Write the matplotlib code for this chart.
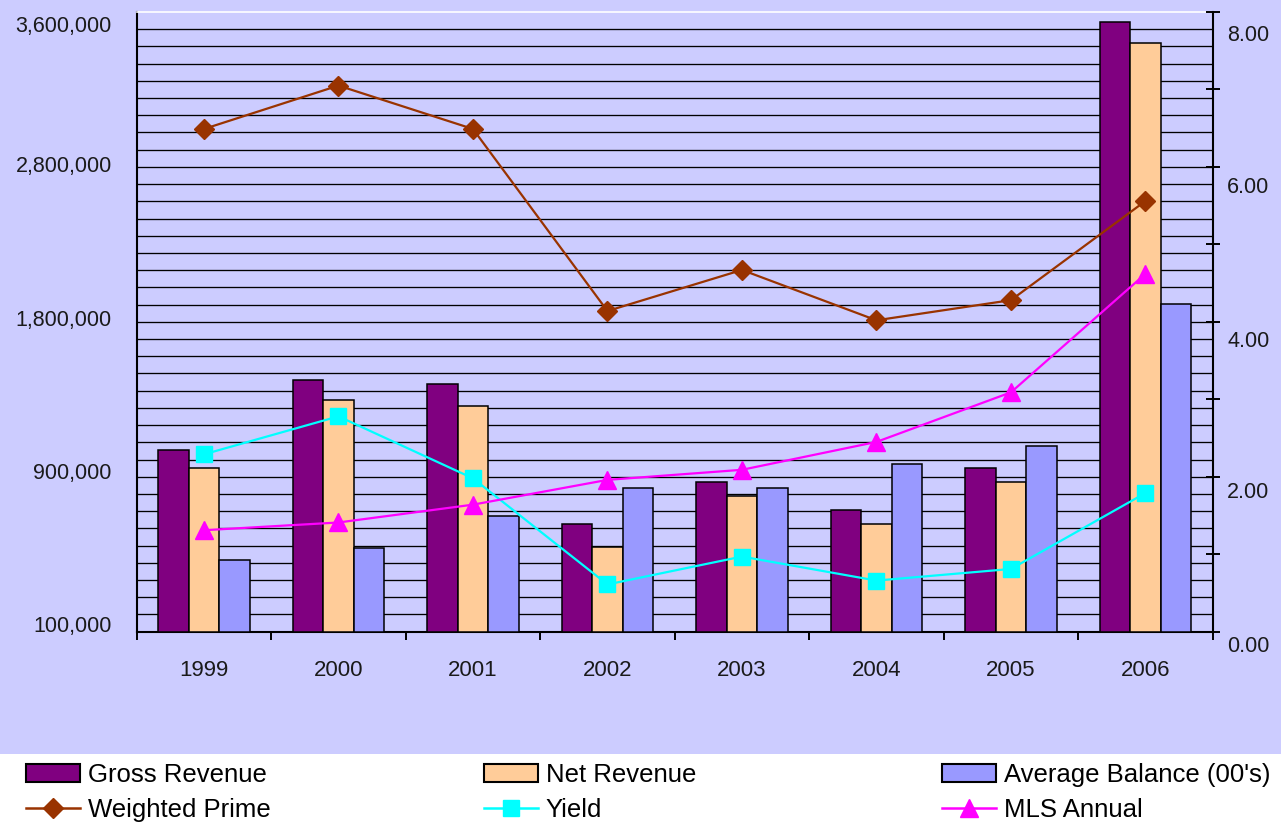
import numpy as np
import matplotlib
matplotlib.use("Agg")
import matplotlib.pyplot as plt
from matplotlib.patches import Rectangle, Patch
from matplotlib.lines import Line2D
from matplotlib.ticker import FixedLocator

plt.rcParams['font.family'] = ['Liberation Sans', 'DejaVu Sans']

# ---- data ----
years = ["1999", "2000", "2001", "2002", "2003", "2004", "2005", "2006"]
gross_revenue = [1053700, 1460400, 1437100, 623900, 867900, 705200, 949200, 3543500]
net_revenue = [949200, 1344200, 1309300, 493800, 786500, 623900, 867900, 3418000]
average_balance = [414800, 484500, 670300, 833000, 833000, 972400, 1077000, 1905300]
weighted_prime = [6.49, 7.05, 6.49, 4.14, 4.67, 4.02, 4.28, 5.56]
yield_pct = [2.29, 2.78, 1.98, 0.61, 0.97, 0.66, 0.81, 1.79]
mls_annual = [1.31, 1.41, 1.64, 1.96, 2.09, 2.45, 3.09, 4.62]

left_tick_values = [0, 900000, 1800000, 2700000, 3600000]
left_tick_labels = ["100,000", "900,000", "1,800,000", "2,800,000", "3,600,000"]
right_tick_values = [0, 2, 4, 6, 8]
right_tick_labels = ["0.00", "2.00", "4.00", "6.00", "8.00"]

# ---- style ----
W, H = 1281, 823
LAV = '#CCCCFF'
C_GROSS, C_NET, C_AVG = '#800080', '#FFCC99', '#9999FF'
C_WP, C_Y, C_MLS = '#993300', '#00FFFF', '#FF00FF'
TICK_FS = 15.5
LEG_FS = 18.5

fig = plt.figure(figsize=(W / 100, H / 100), dpi=100)
fig.patch.set_facecolor('white')
fig.add_artist(Rectangle((0, 69 / H), 1, 754 / H, transform=fig.transFigure,
                         facecolor=LAV, edgecolor='none', zorder=-10))

ax = fig.add_axes([136.7 / W, 191.3 / H, 1076 / W, 619.7 / H])
ax.set_facecolor('none')
x = np.arange(len(years))
bw = 0.2268
ax.bar(x - bw, gross_revenue, bw, color=C_GROSS, edgecolor='black', linewidth=1.1, zorder=3)
ax.bar(x, net_revenue, bw, color=C_NET, edgecolor='black', linewidth=1.1, zorder=3)
ax.bar(x + bw, average_balance, bw, color=C_AVG, edgecolor='black', linewidth=1.1, zorder=3)
ax.set_xlim(-0.5, len(years) - 0.5)
ax.set_ylim(0, 3600000)

# horizontal grid every 100,000
ax.set_yticks([])
ax.yaxis.set_minor_locator(FixedLocator(np.arange(100000, 3600000, 100000)))
ax.tick_params(axis='y', which='both', length=0, labelleft=False)
ax.grid(which='minor', axis='y', color='black', linewidth=0.95, zorder=0.5)
ax.set_axisbelow(True)

# category boundary ticks
ax.set_xticks(np.arange(len(years) + 1) - 0.5)
ax.tick_params(axis='x', which='major', direction='out', length=6, width=1.4,
               color='black', labelbottom=False)

for s in ['left', 'bottom']:
    ax.spines[s].set_color('black')
    ax.spines[s].set_linewidth(1.5)
ax.spines['top'].set_color('white')
ax.spines['top'].set_linewidth(1.2)
ax.spines['right'].set_visible(False)

# left labels (pixel offsets relative to tick position)
left_dy = [7.2, 6.0, 3.8, 2.4, -12.5]
for v, lab, dy in zip(left_tick_values, left_tick_labels, left_dy):
    ax.annotate(lab, xy=(0, v), xycoords=('axes fraction', 'data'),
                xytext=(-25, dy - 7.8), textcoords='offset pixels',
                ha='right', va='baseline', fontsize=TICK_FS, color='#1a1a1a',
                annotation_clip=False)

# x labels
for i, lab in enumerate(years):
    ax.annotate(lab, xy=(i, 0), xycoords=('data', 'axes fraction'),
                xytext=(0, -44), textcoords='offset pixels',
                ha='center', va='baseline', fontsize=TICK_FS + 0.5, color='#1a1a1a',
                annotation_clip=False)

# secondary axis
ax2 = ax.twinx()
ax2.set_ylim(0, 8)
ax2.set_yticks(np.arange(0, 9))
ax2.tick_params(axis='y', direction='inout', length=9.6, width=1.4, color='black',
                labelright=False)
for s in ['left', 'top', 'bottom']:
    ax2.spines[s].set_visible(False)
ax2.spines['right'].set_color('black')
ax2.spines['right'].set_linewidth(1.5)

ax2.plot(x, weighted_prime, color=C_WP, lw=1.6, marker='D', ms=10, mec=C_WP, mfc=C_WP, zorder=5)
ax2.plot(x, yield_pct, color=C_Y, lw=1.6, marker='s', ms=11, mec=C_Y, mfc=C_Y, zorder=5)
ax2.plot(x, mls_annual, color=C_MLS, lw=1.6, marker='^', ms=13, mec=C_MLS, mfc=C_MLS, zorder=5)

right_dy = [12.8, 13.7, 17.1, 17.8, 20.8]
for v, lab, dy in zip(right_tick_values, right_tick_labels, right_dy):
    ax2.annotate(lab, xy=(1, v), xycoords=('axes fraction', 'data'),
                 xytext=(14.3, -dy - 7.8), textcoords='offset pixels',
                 ha='left', va='baseline', fontsize=TICK_FS, color='#1a1a1a',
                 annotation_clip=False)

# legend: three columns
cols = [
    [(Patch(facecolor=C_GROSS, edgecolor='black', linewidth=1.5), "Gross Revenue"),
     (Line2D([], [], color=C_WP, lw=1.8, marker='D', ms=10, mec=C_WP), "Weighted Prime")],
    [(Patch(facecolor=C_NET, edgecolor='black', linewidth=1.5), "Net Revenue"),
     (Line2D([], [], color=C_Y, lw=1.8, marker='s', ms=11, mec=C_Y), "Yield")],
    [(Patch(facecolor=C_AVG, edgecolor='black', linewidth=1.5), "Average Balance (00's)"),
     (Line2D([], [], color=C_MLS, lw=1.8, marker='^', ms=13, mec=C_MLS), "MLS Annual")],
]
col_x = [26, 484, 942]
for cx, entries in zip(col_x, cols):
    fig.legend([e[0] for e in entries], [e[1] for e in entries],
               loc='center left', bbox_to_anchor=(cx / W, (H - 792.5) / H),
               frameon=False, fontsize=LEG_FS, handlelength=2.1, handletextpad=0.3,
               labelspacing=0.4, borderpad=0, borderaxespad=0)

fig.savefig('out.png', dpi=100, facecolor=fig.get_facecolor())
